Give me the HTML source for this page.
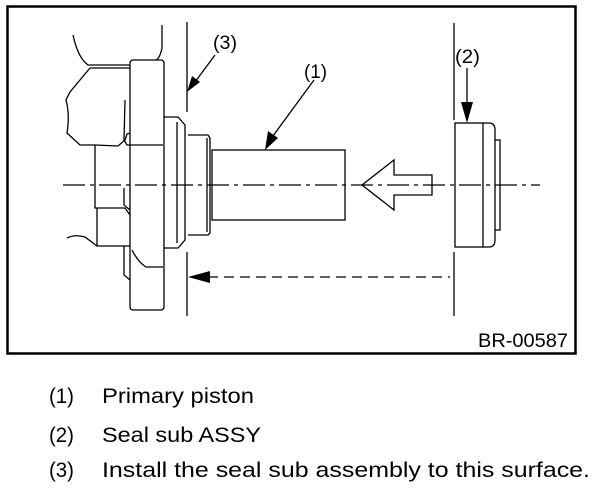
<!DOCTYPE html>
<html><head><meta charset="utf-8"><style>
html,body{margin:0;padding:0;background:#fff;width:608px;height:490px;overflow:hidden}
svg{position:absolute;left:0;top:0}
.t{font-family:"Liberation Sans",sans-serif;fill:#000}
</style></head><body>
<svg width="608" height="490" viewBox="0 0 608 490" xmlns="http://www.w3.org/2000/svg">
<rect x="7.5" y="6.5" width="568" height="347" fill="none" stroke="#000" stroke-width="2.5"/>
<g fill="none" stroke="#000" stroke-width="1.3">
<line x1="187" y1="22" x2="187" y2="112"/>
<line x1="187" y1="252" x2="187" y2="316"/>
<rect x="130" y="60" width="34" height="250" rx="3"/>
<path d="M73 35 Q78 58 88 65 L130 65"/>
<path d="M90 68 L130 68 M90 68 L70 92 L66 100 Q70 115 67 133 L80 145 L95 145 L118 146 L125 140 L127 134 L130 133"/>
<path d="M162 25 L162 48 Q160 58 156 60"/>
<path d="M125 100 L124 140 L127 145 L163 145"/>
<path d="M95 145 L95 208 L125 208 L130 215"/>
<path d="M124 188 L124 205 L130 210"/>
<path d="M97 208 L97 246 L130 246"/>
<path d="M67 238 Q75 234 85 237 L97 246"/>
<path d="M124 246 L124 275 L130 280"/>
<path d="M132 250 Q138 262 146 267 L163 267"/>
<path d="M164 117 L178 117 L185 125 L185 240 L178 248 L164 248"/>
<line x1="177" y1="122" x2="177" y2="243"/>
<path d="M188 135 L208 135 L210 138 L210 233 L208 235 L188 235"/>
<line x1="207" y1="138" x2="207" y2="232"/>
<rect x="212" y="150" width="133" height="70"/>
<rect x="455" y="123" width="28" height="124"/>
<path d="M483 123 L489 123 Q495 123 495 130 L495 240 Q495 247 489 247 L483 247"/>
<path d="M495 140 L500 140 L500 230 L495 230"/>
<line x1="454" y1="23" x2="454" y2="120"/>
<line x1="454" y1="252" x2="454" y2="316"/>
<path d="M362 185 L394 160 L394 175 L432 175 L432 195 L394 195 L394 210 Z" fill="#fff"/>
<line x1="215" y1="55" x2="192" y2="86"/>
<line x1="314" y1="80" x2="270" y2="140"/>
<line x1="467" y1="68" x2="467" y2="112"/>
</g>
<line x1="63" y1="185" x2="540" y2="185" stroke="#000" stroke-width="1.3" stroke-dasharray="22,5,4,5"/>
<line x1="208" y1="277" x2="450" y2="277" stroke="#000" stroke-width="1.3" stroke-dasharray="10,6"/>
<g fill="#000">
<polygon points="188,277 210,271 210,283"/>
<polygon points="187,92 192,76 200,82"/>
<polygon points="265,150 268,131 278,138"/>
<polygon points="467,123 461,102 473,102"/>
</g>
<text class="t" x="213" y="49" font-size="19" textLength="24" lengthAdjust="spacingAndGlyphs">(3)</text>
<text class="t" x="304" y="78" font-size="19" textLength="23" lengthAdjust="spacingAndGlyphs">(1)</text>
<text class="t" x="455" y="63" font-size="19" textLength="25" lengthAdjust="spacingAndGlyphs">(2)</text>
<text class="t" x="478" y="347" font-size="19" textLength="90" lengthAdjust="spacingAndGlyphs">BR-00587</text>
<text class="t" x="49" y="403" font-size="21" textLength="25" lengthAdjust="spacingAndGlyphs">(1)</text>
<text class="t" x="102" y="403" font-size="21" textLength="152" lengthAdjust="spacingAndGlyphs">Primary piston</text>
<text class="t" x="49" y="442" font-size="21" textLength="25" lengthAdjust="spacingAndGlyphs">(2)</text>
<text class="t" x="102" y="442" font-size="21" textLength="159" lengthAdjust="spacingAndGlyphs">Seal sub ASSY</text>
<text class="t" x="49" y="477" font-size="21" textLength="25" lengthAdjust="spacingAndGlyphs">(3)</text>
<text class="t" x="102" y="477" font-size="21" textLength="488" lengthAdjust="spacingAndGlyphs">Install the seal sub assembly to this surface.</text>
</svg>
</body></html>
